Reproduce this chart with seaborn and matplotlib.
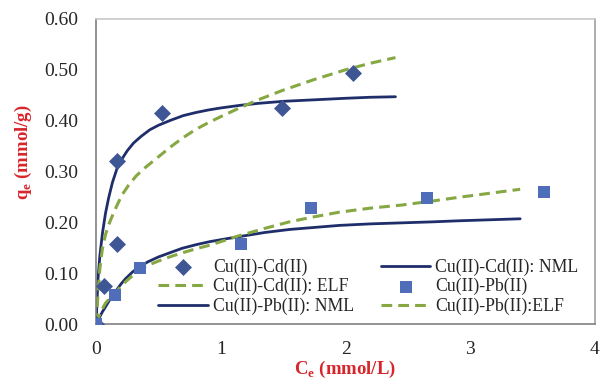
import matplotlib
matplotlib.use("Agg")
import matplotlib.pyplot as plt
import seaborn as sns

# Experimental data
cd_ce = [0.0, 0.06, 0.17, 0.17, 0.53, 1.49, 2.06]
cd_qe = [0.0, 0.074, 0.320, 0.158, 0.416, 0.424, 0.494]
pb_ce = [0.0, 0.155, 0.355, 1.16, 1.72, 2.65, 3.59]
pb_qe = [0.0, 0.058, 0.110, 0.157, 0.229, 0.247, 0.260]

# Fitted curves
cd_nml_c = [0, 0.005, 0.015, 0.03, 0.05, 0.075, 0.1, 0.13, 0.166, 0.2, 0.25, 0.3, 0.36, 0.43, 0.5, 0.6, 0.7, 0.8, 0.9, 1.0, 1.15, 1.3, 1.5, 1.75, 2.0, 2.2, 2.4]
cd_nml_q = [0, 0.035, 0.09, 0.135, 0.178, 0.218, 0.248, 0.278, 0.305, 0.322, 0.341, 0.356, 0.369, 0.382, 0.391, 0.401, 0.410, 0.416, 0.421, 0.425, 0.430, 0.434, 0.438, 0.441, 0.444, 0.446, 0.447]
cd_elf_c = [0, 0.005, 0.015, 0.03, 0.05, 0.075, 0.1, 0.13, 0.17, 0.21, 0.26, 0.32, 0.38, 0.43, 0.5, 0.6, 0.7, 0.8, 0.9, 1.0, 1.15, 1.3, 1.5, 1.75, 2.0, 2.2, 2.4]
cd_elf_q = [0, 0.02, 0.06, 0.11, 0.148, 0.176, 0.195, 0.213, 0.235, 0.255, 0.273, 0.291, 0.305, 0.315, 0.329, 0.349, 0.367, 0.383, 0.396, 0.408, 0.425, 0.441, 0.46, 0.481, 0.50, 0.513, 0.524]
pb_nml_c = [0, 0.02, 0.05, 0.075, 0.11, 0.155, 0.2, 0.235, 0.29, 0.34, 0.42, 0.5, 0.6, 0.69, 0.8, 0.91, 1.05, 1.15, 1.35, 1.55, 1.75, 1.95, 2.2, 2.45, 2.7, 2.9, 3.15, 3.4]
pb_nml_q = [0, 0.01, 0.024, 0.034, 0.048, 0.064, 0.079, 0.089, 0.102, 0.112, 0.123, 0.132, 0.141, 0.149, 0.156, 0.162, 0.168, 0.172, 0.18, 0.186, 0.19, 0.194, 0.197, 0.199, 0.201, 0.203, 0.205, 0.207]
pb_elf_c = [0, 0.02, 0.05, 0.075, 0.11, 0.155, 0.2, 0.235, 0.3, 0.37, 0.43, 0.5, 0.6, 0.69, 0.8, 0.91, 1.05, 1.15, 1.35, 1.55, 1.75, 1.95, 2.2, 2.45, 2.7, 2.9, 3.15, 3.4]
pb_elf_q = [0, 0.014, 0.03, 0.041, 0.051, 0.062, 0.075, 0.083, 0.097, 0.11, 0.117, 0.124, 0.133, 0.14, 0.148, 0.155, 0.166, 0.174, 0.188, 0.201, 0.211, 0.220, 0.228, 0.234, 0.242, 0.249, 0.257, 0.265]

labels = ["Cu(II)-Cd(II)", "Cu(II)-Cd(II): NML", "Cu(II)-Cd(II): ELF",
          "Cu(II)-Pb(II)", "Cu(II)-Pb(II): NML", "Cu(II)-Pb(II):ELF"]

sns.set_style("white")
plt.rcParams['font.family'] = ['Liberation Serif', 'DejaVu Serif']

navy = "#1F2E6B"
green = "#86A843"
dia_col = "#3F5694"
sq_col = "#4F6DB8"

fig = plt.figure(figsize=(6.01, 3.79), dpi=100)
ax = fig.add_axes([0.16, 0.145, 0.83, 0.805])

sns.lineplot(x=cd_nml_c, y=cd_nml_q, ax=ax, color=navy, lw=2, sort=False, estimator=None, label=labels[1])
sns.lineplot(x=cd_elf_c, y=cd_elf_q, ax=ax, color=green, lw=2.2, sort=False, estimator=None, label=labels[2])
sns.lineplot(x=pb_nml_c, y=pb_nml_q, ax=ax, color=navy, lw=2, sort=False, estimator=None, label=labels[4])
sns.lineplot(x=pb_elf_c, y=pb_elf_q, ax=ax, color=green, lw=2.2, sort=False, estimator=None, label=labels[5])
lines = ax.get_lines()
for ln in lines:
    ln.set_solid_joinstyle("round")
    ln.set_dash_joinstyle("round")
lines[1].set_dashes([3.5, 2])
lines[3].set_dashes([3.5, 2])

sns.scatterplot(x=cd_ce, y=cd_qe, ax=ax, marker="D", s=75, color=dia_col, edgecolor=dia_col, linewidth=0, label=labels[0], zorder=5)
sns.scatterplot(x=pb_ce, y=pb_qe, ax=ax, marker="s", s=75, color=sq_col, edgecolor=sq_col, linewidth=0, label=labels[3], zorder=5)

ax.set_xlim(0, 4)
ax.set_ylim(0, 0.6)
ax.set_xticks([0, 1, 2, 3, 4])
ax.set_xticklabels(["0", "1", "2", "3", "4"])
ax.set_yticks([0, 0.1, 0.2, 0.3, 0.4, 0.5, 0.6])
ax.set_yticklabels([f"{v:.2f}" for v in [0, 0.1, 0.2, 0.3, 0.4, 0.5, 0.6]])
ax.tick_params(direction="in", length=5, width=1, color="#808080", labelsize=14)
ax.tick_params(axis="x", pad=12)
ax.tick_params(axis="y", pad=13)
for side, sp in ax.spines.items():
    sp.set_color("#808080")
    sp.set_linewidth(1.2)
ax.spines['top'].set_color("#C8C8C8")
ax.spines['right'].set_color("#A0A0A0")

red = "#D7262B"
ax.set_xlabel(r"C$_\mathregular{e}$ (mmol/L)", color=red, fontsize=13.5, fontweight="bold")
ax.set_ylabel(r"q$_\mathregular{e}$ (mmol/g)", color=red, fontsize=13.5, fontweight="bold")
ax.xaxis.set_label_coords((345 - 96) / 499, -(359 - 324) / 305)
ax.yaxis.set_label_coords(-(96 - 34) / 499, (324 - 152) / 305)

handles, labs = ax.get_legend_handles_labels()
hmap = dict(zip(labs, handles))
order = [labels[0], labels[2], labels[4], labels[1], labels[3], labels[5]]
ax.legend([hmap[l] for l in order], order, ncol=2, frameon=False, fontsize=12.8,
          handlelength=2.8, handletextpad=0.28, columnspacing=1.5, labelspacing=0.12,
          loc="lower left", bbox_to_anchor=((158 - 96) / 499, 0.03), borderaxespad=0,
          borderpad=0)

fig.savefig("out.png", dpi=100)
